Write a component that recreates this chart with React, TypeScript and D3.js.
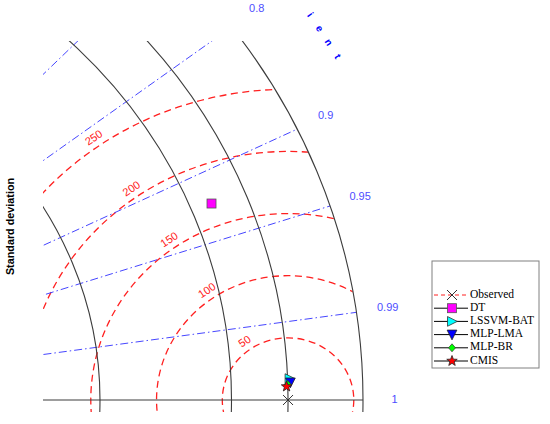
import React from "react";
import * as d3 from "d3";

// ---- data ----
const observedStd = 443;
const modelNames = ["DT", "LSSVM-BAT", "MLP-LMA", "MLP-BR", "CMIS"];
const modelStd = [416, 444.5, 445, 443, 442];
const modelCorr = [0.925, 0.99925, 0.9995, 0.9996, 0.9997];
const stdArcs = [100, 200, 300, 400, 500];
const corrTicks = [0.1, 0.2, 0.3, 0.4, 0.5, 0.6, 0.7, 0.8, 0.9, 0.95, 0.99];
const corrLabelTicks = [0.1, 0.2, 0.3, 0.4, 0.5, 0.6, 0.7, 0.8, 0.9, 0.95, 0.99, 1];
const rmsTicks = [50, 100, 150, 200, 250];
const corrTitle = "Correlation Coefficient";
const yTitle = "Standard deviation";

const W = 550;
const H = 424;
const maxStd = 500;

const sx = d3.scaleLinear().domain([0, maxStd]).range([-294.5, 363]);
const sy = d3.scaleLinear().domain([0, maxStd]).range([400, 400 - 621.5]);

const clip = { x: 43, y: 41, w: 507, h: 371 };

const fmt = (v: number) => (v === 1 ? "1" : String(v));
const inView = (x: number, y: number) => x > 4 && x < W - 4 && y > 7 && y < H - 4;

function starPath(cx: number, cy: number, R: number) {
  const r = R * 0.42;
  const pts: [number, number][] = [];
  for (let i = 0; i < 10; i++) {
    const a = -Math.PI / 2 + (i * Math.PI) / 5;
    const rr = i % 2 === 0 ? R : r;
    pts.push([cx + rr * Math.cos(a), cy + rr * Math.sin(a)]);
  }
  return "M" + pts.map((p) => p.join(",")).join("L") + "Z";
}

function triPath(cx: number, cy: number, s: number, dir: "right" | "down") {
  if (dir === "right") {
    return `M${cx - s * 0.6},${cy - s * 0.65}L${cx + s * 0.7},${cy}L${cx - s * 0.6},${cy + s * 0.65}Z`;
  }
  return `M${cx - s * 0.65},${cy - s * 0.6}L${cx + s * 0.65},${cy - s * 0.6}L${cx},${cy + s * 0.7}Z`;
}

function Marker({ name, x, y }: { name: string; x: number; y: number }) {
  switch (name) {
    case "DT":
      return <rect x={x - 4.5} y={y - 4.5} width={9} height={9} fill="#ff00ff" stroke="#555" strokeWidth={0.8} />;
    case "LSSVM-BAT":
      return <path d={triPath(x, y, 7.5, "right")} fill="#00ffff" stroke="#333" strokeWidth={0.8} />;
    case "MLP-LMA":
      return <path d={triPath(x, y, 7.5, "down")} fill="#0000ff" stroke="#222" strokeWidth={0.8} />;
    case "MLP-BR":
      return <path d={`M${x},${y - 4}L${x + 3.5},${y}L${x},${y + 4}L${x - 3.5},${y}Z`} fill="#00ff00" stroke="#333" strokeWidth={0.7} />;
    case "CMIS":
      return <path d={starPath(x, y, 5.5)} fill="#ff0000" stroke="#222" strokeWidth={0.8} />;
    default:
      return (
        <path d={`M${x - 5},${y - 5}L${x + 5},${y + 5}M${x - 5},${y + 5}L${x + 5},${y - 5}`} stroke="#333" strokeWidth={1} />
      );
  }
}

export default function App() {
  const ox = sx(0);
  const oy = sy(0);
  const rx = (r: number) => sx(r) - sx(0);
  const ry = (r: number) => sy(0) - sy(r);

  const obsX = sx(observedStd);
  const obsY = sy(0);

  const points = modelNames.map((n, i) => {
    const th = Math.acos(modelCorr[i]);
    return { name: n, x: sx(modelStd[i] * Math.cos(th)), y: sy(modelStd[i] * Math.sin(th)) };
  });

  // correlation title letters along arc
  const titleR = 554;
  const lastAng = 29.9;
  const stepAng = 1.36;
  const n = corrTitle.length;
  const letters = corrTitle
    .split("")
    .map((ch, i) => {
      const ang = ((lastAng + (n - 1 - i) * stepAng) * Math.PI) / 180;
      const x = sx(titleR * Math.cos(ang));
      const y = sy(titleR * Math.sin(ang));
      const tx = Math.sin(ang) * rx(1);
      const ty = Math.cos(ang) * ry(1);
      const rot = (Math.atan2(ty, tx) * 180) / Math.PI;
      return { ch, x, y, rot, i };
    })
    .filter((l) => l.ch !== " " && inView(l.x, l.y));

  const rmsLabels = rmsTicks.map((r) => {
    const ang = (125 * Math.PI) / 180;
    const rr = r + 7;
    const x = sx(observedStd + rr * Math.cos(ang));
    const y = sy(rr * Math.sin(ang));
    const tx = Math.sin(ang) * rx(1);
    const ty = -Math.cos(ang) * ry(1);
    const rot = (Math.atan2(-ty, tx) * 180) / Math.PI;
    return { r, x, y, rot };
  });

  const corrLabels = corrLabelTicks
    .map((c) => {
      const th = Math.acos(c);
      return { c, x: sx(524 * Math.cos(th)), y: sy(524 * Math.sin(th)) };
    })
    .filter((l) => inView(l.x, l.y));

  const lineGen = d3.line<[number, number]>().x((d) => sx(d[0])).y((d) => sy(d[1]));

  const legendItems = ["Observed", ...modelNames];
  const legendX = 432;
  const legendY = 261;
  const rowY0 = 295;
  const rowStep = 13.2;

  return (
    <svg width={W} height={H} style={{ position: "absolute", left: 0, top: 0, background: "#fff" }}>
      <defs>
        <clipPath id="boxClip">
          <rect x={clip.x} y={clip.y} width={clip.w} height={clip.h} />
        </clipPath>
        <clipPath id="outerClip">
          <ellipse cx={ox} cy={oy} rx={rx(maxStd)} ry={ry(maxStd)} />
        </clipPath>
      </defs>
      <rect x={0} y={0} width={W} height={H} fill="#fff" />

      <g clipPath="url(#boxClip)">
        {/* RMS circles */}
        <g clipPath="url(#outerClip)">
          {rmsTicks.map((r) => (
            <ellipse
              key={"rms" + r}
              cx={obsX}
              cy={obsY}
              rx={rx(r)}
              ry={ry(r)}
              fill="none"
              stroke="#ff2020"
              strokeWidth={1.3}
              strokeDasharray="7,4.5"
            />
          ))}
        </g>
        {/* correlation lines */}
        {corrTicks.map((c) => {
          const th = Math.acos(c);
          return (
            <path
              key={"c" + c}
              d={
                lineGen([
                  [0, 0],
                  [maxStd * Math.cos(th), maxStd * Math.sin(th)],
                ]) || ""
              }
              fill="none"
              stroke="#4646ff"
              strokeWidth={1}
              strokeDasharray="8,3,1.5,3"
            />
          );
        })}
        {/* std arcs */}
        {[...stdArcs, observedStd].map((r) => (
          <ellipse
            key={"s" + r}
            cx={ox}
            cy={oy}
            rx={rx(r)}
            ry={ry(r)}
            fill="none"
            stroke="#3c3c3c"
            strokeWidth={1.1}
          />
        ))}
        <path
          d={
            lineGen([
              [0, 0],
              [maxStd, 0],
            ]) || ""
          }
          stroke="#3c3c3c"
          strokeWidth={1.1}
        />
      </g>

      {/* RMS labels */}
      {rmsLabels.map((l) => (
        <text
          key={"rl" + l.r}
          x={l.x}
          y={l.y}
          transform={`rotate(${l.rot},${l.x},${l.y})`}
          textAnchor="middle"
          dominantBaseline="middle"
          fontFamily="Liberation Sans, Arial, sans-serif"
          fontSize={11}
          fill="#ff2020"
        >
          {l.r}
        </text>
      ))}

      {/* correlation labels */}
      {corrLabels.map((l) => (
        <text
          key={"cl" + l.c}
          x={l.x}
          y={l.y}
          textAnchor="middle"
          dominantBaseline="middle"
          fontFamily="Liberation Sans, Arial, sans-serif"
          fontSize={11}
          fill="#4d4dff"
        >
          {fmt(l.c)}
        </text>
      ))}

      {/* correlation title letters (visible part of the arc) */}
      {letters.map((l) => (
        <text
          key={"lt" + l.i}
          x={l.x}
          y={l.y}
          transform={`rotate(${l.rot},${l.x},${l.y})`}
          textAnchor="middle"
          dominantBaseline="middle"
          fontFamily="Liberation Sans, Arial, sans-serif"
          fontSize={10}
          fontWeight="bold"
          fill="#0000ff"
        >
          {l.ch}
        </text>
      ))}

      {/* y title */}
      <text
        x={11}
        y={226.5}
        transform="rotate(-90,11,226.5)"
        textAnchor="middle"
        dominantBaseline="middle"
        fontFamily="Liberation Sans, Arial, sans-serif"
        fontSize={10.8}
        fontWeight="bold"
        fill="#000"
      >
        {yTitle}
      </text>

      {/* observed */}
      <Marker name="Observed" x={obsX} y={obsY} />
      {/* models */}
      {points.map((p) => (
        <Marker key={p.name} name={p.name} x={p.x} y={p.y} />
      ))}

      {/* legend */}
      <rect x={legendX} y={legendY} width={107} height={107} fill="#fff" stroke="#808080" strokeWidth={1} />
      {legendItems.map((name, i) => {
        const y = rowY0 + i * rowStep;
        return (
          <g key={"lg" + name}>
            <line
              x1={434}
              x2={468}
              y1={y}
              y2={y}
              stroke={i === 0 ? "#ff2020" : "#000"}
              strokeWidth={1}
              strokeDasharray={i === 0 ? "4,3" : undefined}
            />
            <Marker name={name} x={452} y={y} />
            <text
              x={470}
              y={y}
              dominantBaseline="middle"
              fontFamily="Liberation Serif, Times New Roman, serif"
              fontSize={11.5}
              fill="#000"
            >
              {name}
            </text>
          </g>
        );
      })}
    </svg>
  );
}
